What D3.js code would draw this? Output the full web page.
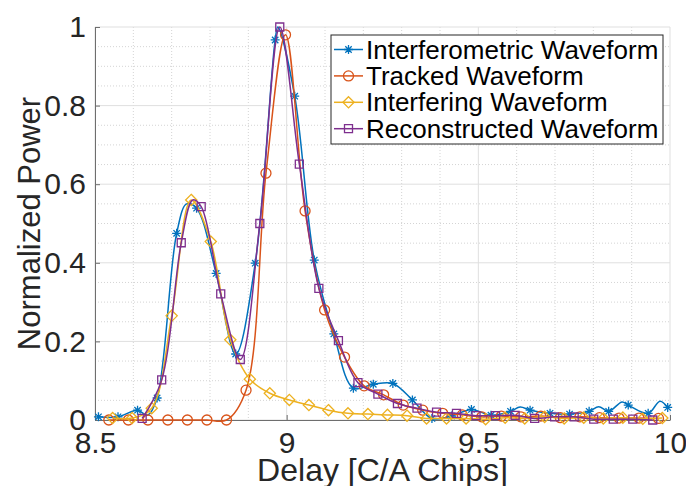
<!DOCTYPE html>
<html>
<head>
<meta charset="utf-8">
<script src="https://cdn.jsdelivr.net/npm/d3@7"></script>
<style>
	body { margin: 0; background: #fff; }
	text { font-family: "Liberation Sans", Arial, sans-serif; }
</style>
</head>
<body>
<div id="chart"></div>
<script>
// marker positions (C/A chips) and normalized power
var blueX = [8.509, 8.560, 8.611, 8.662, 8.713, 8.765, 8.816, 8.867, 8.918, 8.970, 9.021, 9.072, 9.123, 9.174, 9.226,
	9.277, 9.328, 9.379, 9.430, 9.482, 9.533, 9.584, 9.635, 9.687, 9.738, 9.789, 9.840, 9.891, 9.943, 9.994];
var blueY = [0.008, 0.008, 0.025, 0.056, 0.475, 0.539, 0.373, 0.168, 0.399, 0.967, 0.824, 0.407, 0.219, 0.081, 0.091,
	0.093, 0.051, 0.004, 0.010, 0.027, 0.012, 0.022, 0.025, 0.017, 0.015, 0.022, 0.022, 0.038, 0.017, 0.032];
// points on the blue line that carry no marker
var blueKnotX = [8.637, 8.739, 8.977, 9.609, 9.814, 9.875, 9.974];
var blueKnotY = [0.012, 0.550, 1.0, 0.033, 0.034, 0.046, 0.048];

var orangeX = [8.536, 8.587, 8.638, 8.690, 8.741, 8.792, 8.843, 8.894, 8.946, 8.997, 9.048, 9.099, 9.151, 9.202, 9.253,
	9.304, 9.355, 9.407, 9.458, 9.509, 9.560, 9.611, 9.663, 9.714, 9.765, 9.816, 9.867, 9.919, 9.970];
var orangeY = [0, 0, 0, 0, 0, 0, 0, 0.076, 0.628, 0.98, 0.532, 0.28, 0.16, 0.087, 0.064,
	0.038, 0.025, 0.017, 0.013, 0.008, 0.01, 0.008, 0.01, 0.006, 0.008, 0.006, 0.005, 0.005, 0.004];

var yellowX = [8.546, 8.597, 8.648, 8.700, 8.751, 8.802, 8.853, 8.904, 8.956, 9.007, 9.058, 9.109, 9.160, 9.212, 9.263,
	9.314, 9.365, 9.417, 9.468, 9.519, 9.570, 9.621, 9.673, 9.724, 9.775, 9.826, 9.877, 9.929, 9.980];
var yellowY = [0.005, 0.005, 0.03, 0.265, 0.56, 0.454, 0.204, 0.104, 0.068, 0.051, 0.038, 0.025, 0.017, 0.015, 0.013,
	0.011, 0.004, 0.004, 0.004, 0.002, 0.006, 0.004, 0.008, 0.004, 0.006, 0.004, 0.006, 0.003, 0.005];

var purpleX = [8.623, 8.674, 8.725, 8.777, 8.828, 8.879, 8.930, 8.982, 9.033, 9.084, 9.135, 9.186, 9.238, 9.289,
	9.340, 9.391, 9.443, 9.494, 9.545, 9.596, 9.647, 9.699, 9.750, 9.801, 9.852, 9.903, 9.955];
var purpleY = [0.004, 0.102, 0.451, 0.543, 0.321, 0.154, 0.50, 1.0, 0.651, 0.335, 0.202, 0.095, 0.066, 0.042,
	0.03, 0.02, 0.017, 0.011, 0.011, 0.012, 0.004, 0.008, 0.008, 0.002, 0.002, 0.002, 0.0];
var purpleKnotX = [8.755];
var purpleKnotY = [0.56];

var seriesNames = ["Interferometric Waveform", "Tracked Waveform", "Interfering Waveform", "Reconstructed Waveform"];
var xTicks = [8.5, 9, 9.5, 10];
var xTickLabels = ["8.5", "9", "9.5", "10"];
var yTicks = [0, 0.2, 0.4, 0.6, 0.8, 1];
var yTickLabels = ["0", "0.2", "0.4", "0.6", "0.8", "1"];

var width = 686, height = 486;
var margin = {left: 95, top: 27, right: 16, bottom: 66};
var plotW = width - margin.left - margin.right;
var plotH = height - margin.top - margin.bottom;

var svg = d3.select("#chart").append("svg")
	.attr("width", width)
	.attr("height", height);
var g = svg.append("g")
	.attr("transform", "translate(" + margin.left + "," + margin.top + ")");

var x = d3.scaleLinear().domain([8.5, 10]).range([0, plotW]);
var y = d3.scaleLinear().domain([0, 1]).range([plotH, 0]);

// minor grid (dotted)
var minorX = d3.range(8.6, 10, 0.1).filter(v => Math.abs(v * 2 - Math.round(v * 2)) > 1e-6);
var minorY = d3.range(0.05, 1, 0.05).filter(v => Math.abs(v * 5 - Math.round(v * 5)) > 1e-6);
g.selectAll(".minx").data(minorX).enter().append("line")
	.attr("x1", d => x(d)).attr("x2", d => x(d))
	.attr("y1", 0).attr("y2", plotH)
	.style("stroke", "#d4d4d4").style("stroke-dasharray", "1,2");
g.selectAll(".miny").data(minorY).enter().append("line")
	.attr("x1", 0).attr("x2", plotW)
	.attr("y1", d => y(d)).attr("y2", d => y(d))
	.style("stroke", "#d4d4d4").style("stroke-dasharray", "1,2");

// major grid
g.selectAll(".majx").data(xTicks).enter().append("line")
	.attr("x1", d => x(d)).attr("x2", d => x(d))
	.attr("y1", 0).attr("y2", plotH)
	.style("stroke", "#dfdfdf");
g.selectAll(".majy").data(yTicks).enter().append("line")
	.attr("x1", 0).attr("x2", plotW)
	.attr("y1", d => y(d)).attr("y2", d => y(d))
	.style("stroke", "#dfdfdf");

// axes
var xAxis = g.append("g")
	.attr("transform", "translate(0," + plotH + ")")
	.call(d3.axisBottom(x).tickValues(xTicks).tickFormat((d, i) => xTickLabels[i]).tickSizeInner(-5).tickSizeOuter(0).tickPadding(12));
var yAxis = g.append("g")
	.call(d3.axisLeft(y).tickValues(yTicks).tickFormat((d, i) => yTickLabels[i]).tickSizeInner(-5).tickSizeOuter(0).tickPadding(9));
[xAxis, yAxis].forEach(a => {
	a.select(".domain").style("stroke", "#6e6e6e");
	a.selectAll(".tick line").style("stroke", "#6e6e6e");
	a.selectAll("text")
		.style("font-family", "'Liberation Sans', Arial, sans-serif")
		.style("font-size", "30px").style("fill", "#262626");
});
xAxis.selectAll("text").attr("dy", "0.7em");

svg.append("text")
	.attr("x", margin.left + plotW / 2).attr("y", 481)
	.attr("text-anchor", "middle")
	.style("font-size", "32px").style("fill", "#262626")
	.text("Delay [C/A Chips]");
svg.append("text")
	.attr("transform", "translate(40," + (margin.top + plotH / 2) + ") rotate(-90)")
	.attr("text-anchor", "middle")
	.style("font-size", "31px").style("fill", "#262626")
	.text("Normalized Power");

// markers
var star = "M-4.5,0H4.5M0,-4.5V4.5M-3.2,-3.2L3.2,3.2M-3.2,3.2L3.2,-3.2";
var markerShapes = [
	{path: star, fill: "none"},
	{path: "M5,0A5,5 0 1,1 -5,0A5,5 0 1,1 5,0Z", fill: "none"},
	{path: "M0,-5.6L5.6,0L0,5.6L-5.6,0Z", fill: "none"},
	{path: "M-4,-4H4V4H-4Z", fill: "none"}
];
var colors = ["#0072BD", "#D95319", "#EDB120", "#7E2F8E"];

var series = [
	{mx: blueX, my: blueY, kx: blueKnotX, ky: blueKnotY},
	{mx: orangeX, my: orangeY, kx: [], ky: []},
	{mx: yellowX, my: yellowY, kx: [], ky: []},
	{mx: purpleX, my: purpleY, kx: purpleKnotX, ky: purpleKnotY}
];

var line = d3.line()
	.x(d => x(d[0]))
	.y(d => y(d[1]))
	.curve(d3.curveCatmullRom.alpha(0.5));

var plotG = g.append("g");
series.forEach((s, i) => {
	var pts = s.mx.map((v, j) => [v, s.my[j]]).concat(s.kx.map((v, j) => [v, s.ky[j]]));
	pts.sort((a, b) => a[0] - b[0]);
	plotG.append("path")
		.attr("d", line(pts))
		.style("fill", "none")
		.style("stroke", colors[i])
		.style("stroke-width", 1.5);
	plotG.selectAll(".m" + i).data(s.mx).enter().append("path")
		.attr("transform", (d, j) => "translate(" + x(d) + "," + y(s.my[j]) + ")")
		.attr("d", markerShapes[i].path)
		.style("fill", markerShapes[i].fill)
		.style("stroke", colors[i])
		.style("stroke-width", 1.3);
});

// legend
var lg = svg.append("g").attr("transform", "translate(331,35)");
lg.append("rect")
	.attr("width", 332).attr("height", 109)
	.style("fill", "#fff").style("stroke", "#262626").style("stroke-width", 1);
seriesNames.forEach((name, i) => {
	var cy = 14.5 + i * 26.4;
	lg.append("line")
		.attr("x1", 3).attr("x2", 32).attr("y1", cy).attr("y2", cy)
		.style("stroke", colors[i]).style("stroke-width", 1.5);
	lg.append("path")
		.attr("transform", "translate(17.5," + cy + ")")
		.attr("d", markerShapes[i].path)
		.style("fill", "none").style("stroke", colors[i]).style("stroke-width", 1.3);
	lg.append("text")
		.attr("x", 35).attr("y", cy + 9)
		.style("font-size", "26px").style("fill", "#000")
		.text(name);
});
</script>
</body>
</html>
